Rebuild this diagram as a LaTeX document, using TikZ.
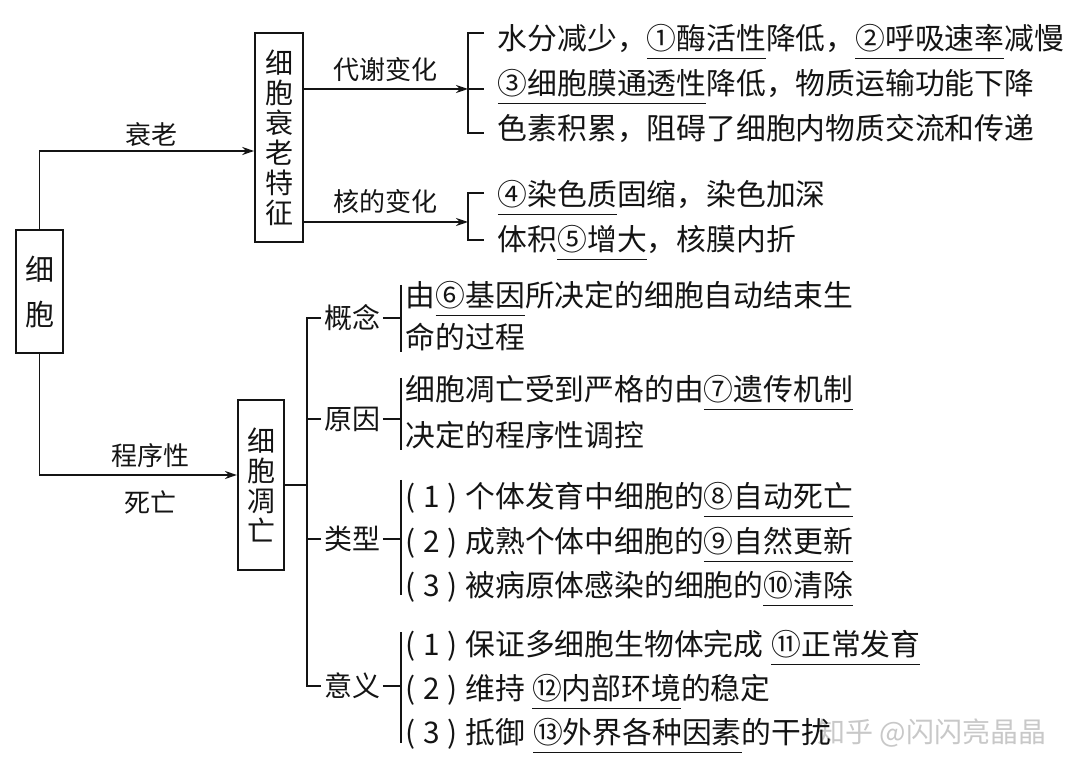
\documentclass[tikz,border=0pt]{standalone}
\usepackage{fontspec}
\setmainfont{Noto Sans CJK SC}
\usetikzlibrary{arrows.meta,positioning,calc}
\definecolor{inkblack}{RGB}{20,20,20}
\definecolor{markgray}{RGB}{200,200,200}
% underlined blank and numbered item
\newcommand{\blank}[1]{\setbox0\hbox{#1}\rlap{\smash{\rule[-10pt]{\wd0}{1.5pt}}}\box0}
\newcommand{\itemno}[1]{\makebox[1.75em]{(\hfill#1\hfill)}\hspace{0.25em}}
\tikzset{
  rowtext/.style={anchor=west, inner sep=0pt, text height=26pt, text depth=3.5pt,
    font=\fontsize{29.8}{29.8}\selectfont},
  vbox/.style={draw, inner sep=0pt, align=center},
  branch/.style={inner sep=2pt, font=\fontsize{28}{28}\selectfont},
  tag/.style={inner sep=3pt, text height=22pt, text depth=3pt, font=\fontsize{26}{26}\selectfont},
}

\begin{document}
\begin{tikzpicture}[x=1pt, y=-1pt, line width=1.6pt, inkblack,
    >={Stealth[length=12pt,width=8pt]}]
\useasboundingbox (0,0) rectangle (1080,775);

% watermark
\node[font=\fontsize{28}{28}\selectfont, text=markgray, inner sep=0pt] (mark) at (932,733) {知乎 @闪闪亮晶晶};

% boxes
\node[vbox, minimum width=47pt, minimum height=123pt, font=\fontsize{29}{45}\selectfont] (cell) at (39.5,291.5) {细\\胞};
\node[vbox, minimum width=48pt, minimum height=209pt, font=\fontsize{28}{30}\selectfont] (aging) at (279,137.5) {细\\胞\\衰\\老\\特\\征};
\node[vbox, minimum width=46.5pt, minimum height=170pt, font=\fontsize{28}{30}\selectfont] (apop) at (261,485) {细\\胞\\凋\\亡};

\draw[->] (cell.north) |- ($(aging.west)+(0,13.5)$) node[tag, pos=0.76, above]{衰老};
\draw[->] (cell.south) |- ($(apop.west)+(0,-10)$)
    node[tag, pos=0.78, above=3pt]{程序性}
    node[tag, pos=0.78, below=12pt]{死亡};

% aging features
\coordinate (metab) at (468,89);
\coordinate (nucl) at (468,222);
\draw[->] (aging.east |- metab) -- (metab) node[tag, midway, above=3pt]{代谢变化};
\draw[->] (aging.east |- nucl) -- (nucl) node[tag, midway, above=4pt]{核的变化};
\draw (484,33) -- (468,33) -- (468,133) -- (484,133) (metab) -- ++(16,0);
\draw (484,193) -- (468,193) -- (468,240) -- (484,240);

\node[rowtext] (m1) at (497,38) {水分减少，\blank{①酶活性}降低，\blank{②呼吸速率}减慢};
\node[rowtext] (m2) at (497,83) {\blank{③细胞膜通透性}降低，物质运输功能下降};
\node[rowtext] (m3) at (497,128) {色素积累，阻碍了细胞内物质交流和传递};
\node[rowtext] (n1) at (497,194) {\blank{④染色质}固缩，染色加深};
\node[rowtext] (n2) at (497,239) {体积\blank{⑤增大}，核膜内折};

% apoptosis tree
\coordinate (spine) at (307,0);
\coordinate (gbar) at (401,0);
\node[branch] (concept) at (352,318) {概念};
\node[branch] (reason) at (352,419) {原因};
\node[branch] (kind) at (352,539) {类型};
\node[branch] (meaning) at (352,686) {意义};
\draw (apop.east) -- (apop.east -| spine);
\draw (concept.west) -- (concept.west -| spine) -- (meaning.west -| spine) -- (meaning.west);
\draw (reason.west) -- (reason.west -| spine);
\draw (kind.west) -- (kind.west -| spine);
\foreach \b in {concept,reason,kind,meaning}
  \draw (\b.east) -- (\b.east -| gbar);
\draw (gbar |- 0,285) -- (gbar |- 0,352);
\draw (gbar |- 0,378) -- (gbar |- 0,450);
\draw (gbar |- 0,480) -- (gbar |- 0,595);
\draw (gbar |- 0,632) -- (gbar |- 0,743);

\node[rowtext] (c1) at (405,295) {由\blank{⑥基因}所决定的细胞自动结束生};
\node[rowtext] (c2) at (405,337) {命的过程};
\node[rowtext] (r1) at (405,389) {细胞凋亡受到严格的由\blank{⑦遗传机制}};
\node[rowtext] (r2) at (405,435) {决定的程序性调控};
\node[rowtext] (k1) at (405,496) {\itemno{1}个体发育中细胞的\blank{⑧自动死亡}};
\node[rowtext] (k2) at (405,541) {\itemno{2}成熟个体中细胞的\blank{⑨自然更新}};
\node[rowtext] (k3) at (405,585) {\itemno{3}被病原体感染的细胞的\blank{⑩清除}};
\node[rowtext] (s1) at (405,644) {\itemno{1}保证多细胞生物体完成\hspace{8pt}\blank{⑪正常发育}};
\node[rowtext] (s2) at (405,688) {\itemno{2}维持\hspace{7pt}\blank{⑫内部环境}的稳定};
\node[rowtext] (s3) at (405,732) {\itemno{3}抵御\hspace{8pt}\blank{⑬外界各种因素}的干扰};
\end{tikzpicture}
\end{document}
